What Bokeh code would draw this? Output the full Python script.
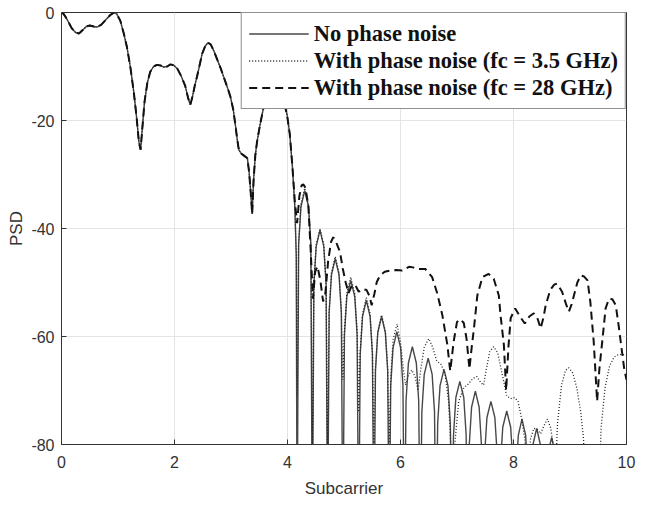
from bokeh.plotting import figure
from bokeh.models import (Range1d, FixedTicker, Legend, LegendItem,
                          ColumnDataSource)
from bokeh.embed import file_html
from bokeh.resources import INLINE

# ---------------- data ----------------
# common part of all three spectra (subcarrier 0 .. 4.09)
x_main = [0.00, 0.04, 0.10, 0.18, 0.25, 0.31, 0.38, 0.44, 0.50, 0.57,
          0.63, 0.70, 0.78, 0.86, 0.93, 0.98, 1.04, 1.10, 1.16, 1.22,
          1.28, 1.33, 1.37, 1.40, 1.43, 1.47, 1.52, 1.57, 1.63, 1.69,
          1.75, 1.81, 1.87, 1.93, 1.99, 2.05, 2.12, 2.19, 2.24, 2.28,
          2.32, 2.36, 2.40, 2.45, 2.49, 2.54, 2.59, 2.64, 2.70, 2.76,
          2.82, 2.88, 2.94, 2.99, 3.04, 3.08, 3.11, 3.14, 3.18, 3.23,
          3.29, 3.32, 3.35, 3.375, 3.40, 3.43, 3.46, 3.51, 3.58, 3.66,
          3.76, 3.86, 3.94, 3.99, 4.04, 4.09]
psd_main = [0.0, -0.3, -1.3, -2.9, -3.7, -3.9, -3.2, -2.6, -2.4, -2.6,
            -2.7, -2.3, -1.4, -0.5, 0.0, -0.3, -1.5, -3.8, -6.5, -10.2,
            -14.8, -19.5, -24.0, -25.4, -21.5, -16.5, -13.0, -11.0, -10.0, -9.7,
            -9.8, -10.1, -10.0, -9.6, -9.8, -10.4, -11.8, -13.6, -15.8, -17.1,
            -15.5, -13.5, -11.8, -9.5, -7.6, -6.3, -5.6, -5.9, -7.2, -8.8,
            -10.4, -12.2, -14.0, -15.6, -18.0, -21.0, -23.5, -25.5, -26.1, -26.5,
            -27.0, -29.5, -33.5, -37.3, -31.0, -26.5, -24.0, -21.0, -17.4, -14.8,
            -13.2, -14.0, -16.8, -18.8, -22.5, -29.0]

# no phase noise: sidelobes after 4.09
x_solid_tail = [4.13, 4.155,
                4.17, 4.197, 4.238, 4.305, 4.372, 4.413,
                4.44, 4.467, 4.508, 4.575, 4.642, 4.683,
                4.71, 4.737, 4.778, 4.845, 4.912, 4.953,
                4.98, 5.008, 5.05, 5.12, 5.19, 5.232,
                5.26, 5.287, 5.328, 5.395, 5.462, 5.503,
                5.53, 5.557, 5.598, 5.665, 5.732, 5.773,
                5.80, 5.827, 5.868, 5.935, 6.002, 6.043,
                6.07, 6.098, 6.14, 6.21, 6.28, 6.322,
                6.35, 6.378, 6.42, 6.49, 6.56, 6.602,
                6.63, 6.658, 6.70, 6.77, 6.84, 6.882,
                6.91, 6.938, 6.98, 7.05, 7.12, 7.162,
                7.19, 7.217, 7.258, 7.325, 7.392, 7.433,
                7.46, 7.488, 7.53, 7.60, 7.67, 7.712,
                7.74, 7.768, 7.81, 7.88, 7.95, 7.992,
                8.02, 8.046, 8.085, 8.15, 8.215, 8.254,
                8.28, 8.306, 8.345, 8.41, 8.475, 8.514,
                8.54, 8.567, 8.608, 8.675, 8.742, 8.783,
                8.81]
psd_solid_tail = [-36, -45,
                  -100, -43, -36, -33, -36, -43,
                  -100, -50.3, -43.3, -40.3, -43.3, -50.3,
                  -100, -55.6, -48.6, -45.6, -48.6, -55.6,
                  -100, -59.6, -52.6, -49.6, -52.6, -59.6,
                  -100, -63.3, -56.3, -53.3, -56.3, -63.3,
                  -100, -66.3, -59.3, -56.3, -59.3, -66.3,
                  -100, -69.1, -62.1, -59.1, -62.1, -69.1,
                  -100, -71.9, -64.9, -61.9, -64.9, -71.9,
                  -100, -74.0, -67.0, -64.0, -67.0, -74.0,
                  -100, -76.1, -69.1, -66.1, -69.1, -76.1,
                  -100, -78.3, -71.3, -68.3, -71.3, -78.3,
                  -100, -80.1, -73.1, -70.1, -73.1, -80.1,
                  -100, -82.0, -75.0, -72.0, -75.0, -82.0,
                  -100, -83.8, -76.8, -73.8, -76.8, -83.8,
                  -100, -85.3, -78.3, -75.3, -78.3, -85.3,
                  -100, -87.0, -80.0, -77.0, -80.0, -87.0,
                  -100, -88.7, -81.7, -78.7, -81.7, -88.7,
                  -100]

# with phase noise, fc = 3.5 GHz
x_dot_tail = [4.13, 4.155,
              4.17, 4.197, 4.238, 4.305, 4.372, 4.413,
              4.44, 4.467, 4.508, 4.575, 4.642, 4.683,
              4.71, 4.737, 4.778, 4.845, 4.912, 4.953,
              4.98, 5.008, 5.05, 5.12, 5.19, 5.232,
              5.26, 5.287, 5.328, 5.395, 5.462, 5.503,
              5.53, 5.557, 5.598, 5.665, 5.732, 5.773,
              5.80, 5.83, 5.87, 5.94, 6.00, 6.05,
              6.09, 6.15, 6.20, 6.26, 6.31, 6.36, 6.42, 6.50, 6.57, 6.64,
              6.72, 6.79, 6.85, 6.89, 6.92, 6.96, 7.03, 7.12, 7.20, 7.28,
              7.35, 7.42, 7.47, 7.52, 7.58, 7.65, 7.72, 7.80, 7.88, 7.95,
              8.02, 8.08, 8.14, 8.20, 8.25, 8.30, 8.36, 8.42, 8.48, 8.54,
              8.60, 8.66, 8.70, 8.73, 8.78, 8.85, 8.92, 8.98, 9.05, 9.12,
              9.19, 9.24, 9.27, 9.39, 9.51, 9.55, 9.62, 9.70, 9.78, 9.85,
              9.92, 10.0]
psd_dot_tail = [-36, -45,
                -71, -42.5, -35.5, -32.5, -35.5, -42.5,
                -82, -50.0, -43.0, -40.0, -43.0, -50.0,
                -82, -55.2, -48.2, -45.2, -48.2, -55.2,
                -68, -59.0, -52.0, -49.0, -52.0, -59.0,
                -74, -62.8, -55.8, -52.8, -55.8, -62.8,
                -82, -66.0, -59.0, -56.0, -59.0, -66.0,
                -80, -67.0, -60.5, -57.7, -61.0, -66.0,
                -69.0, -67.0, -66.2, -67.5, -70.0, -66.0, -62.0, -60.4, -62.0, -64.5,
                -65.2, -67.0, -72.0, -80.0, -88.0, -80.0, -72.0, -69.5, -68.8, -67.8,
                -67.4, -68.5, -69.0, -66.0, -62.8, -61.9, -63.0, -67.0, -71.0, -71.5,
                -71.3, -72.0, -75.0, -79.0, -86.0, -79.0, -77.0, -77.2, -78.0, -76.5,
                -75.3, -77.0, -80.0, -88.0, -76.0, -69.0, -66.3, -65.8, -66.8, -69.5,
                -74.0, -79.0, -90.0, -95.0, -90.0, -77.0, -69.5, -65.5, -63.8, -63.4,
                -63.3, -63.5]

# with phase noise, fc = 28 GHz
x_dash_tail = [4.13, 4.17, 4.21, 4.25, 4.28, 4.32, 4.37, 4.41, 4.45, 4.49,
               4.53, 4.58, 4.63, 4.67, 4.72, 4.77, 4.81, 4.86, 4.93, 4.98,
               5.03, 5.08, 5.14, 5.20, 5.26, 5.33, 5.40, 5.45, 5.49, 5.54,
               5.58, 5.64, 5.72, 5.82, 5.92, 6.03, 6.15, 6.22, 6.30, 6.44,
               6.56, 6.65, 6.74, 6.83, 6.88, 6.94, 7.00, 7.06, 7.12, 7.17,
               7.22, 7.26, 7.30, 7.36, 7.45, 7.56, 7.65, 7.74, 7.77, 7.83,
               7.87, 7.91, 7.95, 8.03, 8.12, 8.20, 8.28, 8.36, 8.43, 8.48,
               8.53, 8.57, 8.65, 8.72, 8.77, 8.86, 8.93, 8.98, 9.03, 9.07,
               9.13, 9.19, 9.25, 9.31, 9.36, 9.42, 9.48, 9.52, 9.57, 9.63,
               9.69, 9.75, 9.81, 9.86, 9.92, 9.96, 10.0]
psd_dash_tail = [-35, -39, -34, -32, -31.8, -32.5, -36, -44, -53, -48,
                 -47, -49.5, -53.5, -52, -46, -42.5, -41.6, -42.5, -44.4, -47.5,
                 -50, -52, -50.5, -50.5, -51.7, -51.2, -51.4, -52.5, -54.2, -52,
                 -49.9, -48.7, -48.0, -47.8, -47.7, -47.8, -47.1, -47.2, -47.5, -47.5,
                 -49, -52, -56, -61.6, -66.4, -61, -57.3, -56.8, -57.5, -60.5,
                 -66, -62, -58.5, -52.4, -49, -48.4, -49.3, -52.4, -56, -61.6,
                 -70, -62, -56.6, -54.8, -56.4, -57.6, -56.3, -55.7, -56.8, -58.5,
                 -56.5, -54.2, -51.4, -50.4, -50.2, -51.7, -54, -55.4, -54, -52.4,
                 -50, -48.7, -48.9, -49.6, -53.6, -61, -72, -66, -61, -54.8,
                 -53, -53.1, -54.2, -57.9, -62.8, -66, -68]

series_labels = ["No phase noise",
                 "With phase noise (fc = 3.5 GHz)",
                 "With phase noise (fc = 28 GHz)"]
x_ticks = [0, 2, 4, 6, 8, 10]
y_ticks = [-80, -60, -40, -20, 0]

# ---------------- figure ----------------
p = figure(width=640, height=500,
           x_range=Range1d(0, 10), y_range=Range1d(-80, 0),
           output_backend="svg", toolbar_location=None,
           min_border_left=61, min_border_right=14,
           min_border_top=12, min_border_bottom=53,
           background_fill_color="white", border_fill_color="white")

p.outline_line_color = "#333333"
p.outline_line_width = 1

src_solid = ColumnDataSource(dict(x=x_main + x_solid_tail, y=psd_main + psd_solid_tail))
src_dot = ColumnDataSource(dict(x=x_main + x_dot_tail, y=psd_main + psd_dot_tail))
src_dash = ColumnDataSource(dict(x=x_main + x_dash_tail, y=psd_main + psd_dash_tail))

r_solid = p.line("x", "y", source=src_solid, line_color="#484848", line_width=1.4)
r_dot = p.line("x", "y", source=src_dot, line_color="#262626", line_width=1.3,
               line_dash="1 2")
r_dash = p.line("x", "y", source=src_dash, line_color="#111111", line_width=2,
                line_dash="8 5")

# axes
tick_font = "Liberation Sans"
for ax in (p.xaxis[0], p.yaxis[0]):
    ax.major_tick_in = 5
    ax.major_tick_out = 0
    ax.minor_tick_line_color = None
    ax.axis_line_color = "#333333"
    ax.major_tick_line_color = "#333333"
    ax.major_label_text_font = tick_font
    ax.major_label_text_font_size = "16px"
    ax.major_label_text_color = "#333333"
    ax.axis_label_text_font = tick_font
    ax.axis_label_text_font_size = "17px"
    ax.axis_label_text_font_style = "normal"
    ax.axis_label_text_color = "#333333"

p.xaxis.ticker = FixedTicker(ticks=x_ticks)
p.yaxis.ticker = FixedTicker(ticks=y_ticks)
p.yaxis.major_label_overrides = {t: str(t) for t in y_ticks}
p.xaxis.axis_label = "Subcarrier"
p.yaxis.axis_label = "PSD"
p.xaxis.major_label_standoff = 11
p.xaxis.axis_label_standoff = 8
p.yaxis.major_label_standoff = 7
p.yaxis.axis_label_standoff = 2

p.xgrid.ticker = FixedTicker(ticks=x_ticks)
p.ygrid.ticker = FixedTicker(ticks=y_ticks)
p.xgrid.grid_line_color = "#e4e4e4"
p.ygrid.grid_line_color = "#e4e4e4"

legend = Legend(items=[LegendItem(label=series_labels[0], renderers=[r_solid]),
                       LegendItem(label=series_labels[1], renderers=[r_dot]),
                       LegendItem(label=series_labels[2], renderers=[r_dash])],
                location="top_right", margin=0, padding=7, spacing=0,
                glyph_width=60, glyph_height=27, label_height=27,
                label_standoff=5,
                label_text_font="Liberation Serif", label_text_font_size="22.5px",
                label_text_font_style="bold", label_text_color="#111111",
                border_line_color="#222222", border_line_width=1,
                background_fill_color="white", background_fill_alpha=1.0)
p.add_layout(legend)

open("out.html", "w").write(file_html(p, INLINE))
